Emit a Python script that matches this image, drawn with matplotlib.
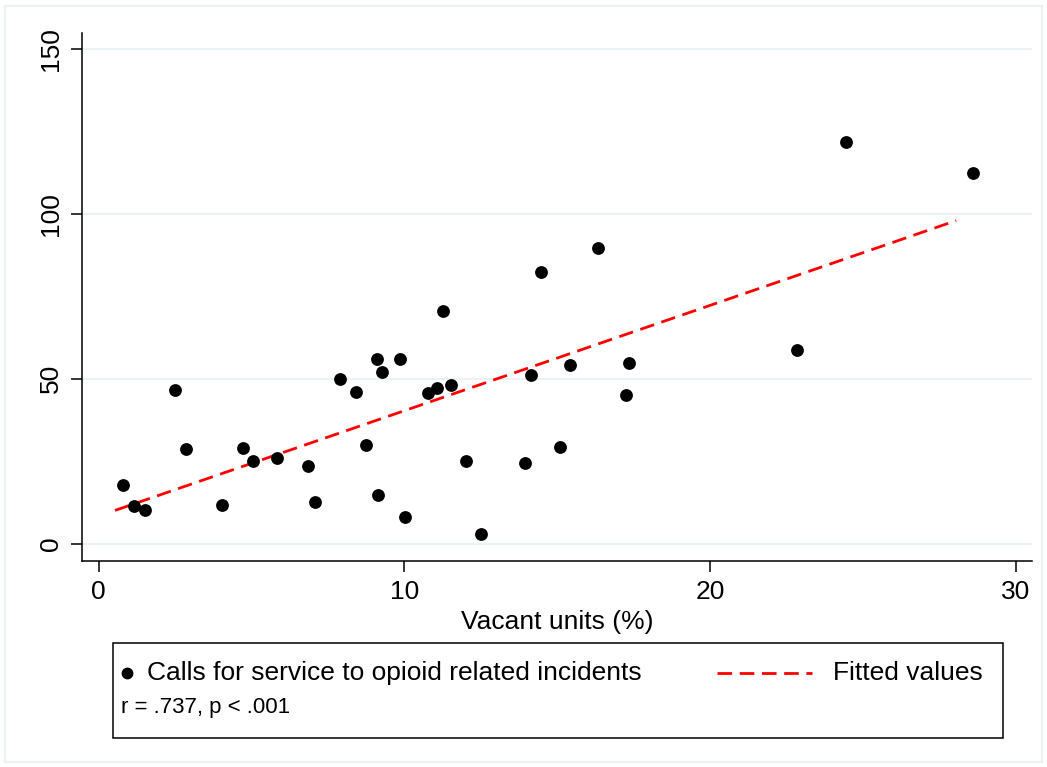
import numpy as np
import matplotlib.pyplot as plt
from matplotlib.lines import Line2D
from matplotlib.patches import Rectangle

plt.rcParams['font.family'] = ['Liberation Sans', 'DejaVu Sans']
plt.rcParams['lines.scale_dashes'] = False

# vacant units (%) vs calls for service
vacant = [0.80, 1.16, 1.52, 2.51, 2.86, 4.05, 4.72, 5.05, 5.85, 6.86,
          7.08, 7.90, 8.41, 8.76, 9.12, 9.13, 9.27, 9.86, 10.03, 10.78,
          11.07, 11.26, 11.54, 12.02, 12.51, 13.94, 14.14, 14.47, 15.08, 15.43,
          16.34, 17.26, 17.35, 22.84, 24.44, 28.61]
calls = [17.8, 11.3, 10.1, 46.5, 28.6, 11.8, 29.1, 25.2, 26.0, 23.6,
         12.6, 50.0, 46.0, 30.0, 55.9, 14.7, 52.1, 55.9, 8.2, 45.6,
         47.2, 70.7, 48.1, 25.1, 2.9, 24.4, 51.2, 82.4, 29.4, 54.2,
         89.7, 45.1, 54.7, 58.8, 121.8, 112.5]

# fitted line endpoints as drawn
fit_x = [0.54, 28.05]
fit_y = [10.1, 98.0]

xticks = [0, 10, 20, 30]
yticks = [0, 50, 100, 150]

grid_col = '#EAF2F3'
W, H = 1047, 767
fs = 19
dash = (10.5, 5.5)

fig = plt.figure(figsize=(W / 100, H / 100), dpi=100)
ax = fig.add_axes([81.7 / W, 1 - 561 / H, (1032 - 81.7) / W, (561 - 33) / H])

for yv in yticks:
    ax.axhline(yv, color=grid_col, lw=1.5, zorder=0)

ax.scatter(vacant, calls, s=85, color='black', zorder=3, linewidths=0)
ax.plot(fit_x, fit_y, color='red', lw=2.0, dashes=dash, zorder=2)

ax.set_xlim(-0.55, 30.53)
ax.set_ylim(-5.25, 154.9)
ax.set_xticks(xticks)
ax.set_yticks(yticks)
ax.set_xticklabels([str(v) for v in xticks], fontsize=fs)
ax.set_yticklabels([str(v) for v in yticks], fontsize=fs, rotation=90, va='center')
ax.tick_params(axis='both', length=7.7, width=1.1, direction='out', pad=6)
for side in ['top', 'right']:
    ax.spines[side].set_visible(False)
for side in ['left', 'bottom']:
    ax.spines[side].set_linewidth(1.1)

ax.set_xlabel('Vacant units (%)', fontsize=fs, labelpad=4)

# outer border
fig.add_artist(Rectangle((5 / W, 1 - 762 / H), 1037 / W, 756 / H,
                         transform=fig.transFigure, fill=False,
                         edgecolor=grid_col, lw=1.5))

# legend box
fig.add_artist(Rectangle((113 / W, 1 - 738 / H), 890 / W, 95 / H,
                         transform=fig.transFigure, fill=False,
                         edgecolor='black', lw=1.1))
ly = 1 - 673 / H
fig.add_artist(Line2D([127 / W], [ly], transform=fig.transFigure,
                      marker='o', color='black', markersize=7.5, linestyle='none'))
fig.text(147 / W, ly, 'Calls for service to opioid related incidents',
         fontsize=fs, va='center', ha='left')
fig.add_artist(Line2D([717 / W, 812 / W], [ly, ly], transform=fig.transFigure,
                      color='red', lw=2.0, dashes=dash))
fig.text(833 / W, ly, 'Fitted values', fontsize=fs, va='center', ha='left')
fig.text(121 / W, 1 - 708 / H, 'r = .737, p < .001', fontsize=16,
         va='center', ha='left')

fig.savefig('out.png', dpi=100)
